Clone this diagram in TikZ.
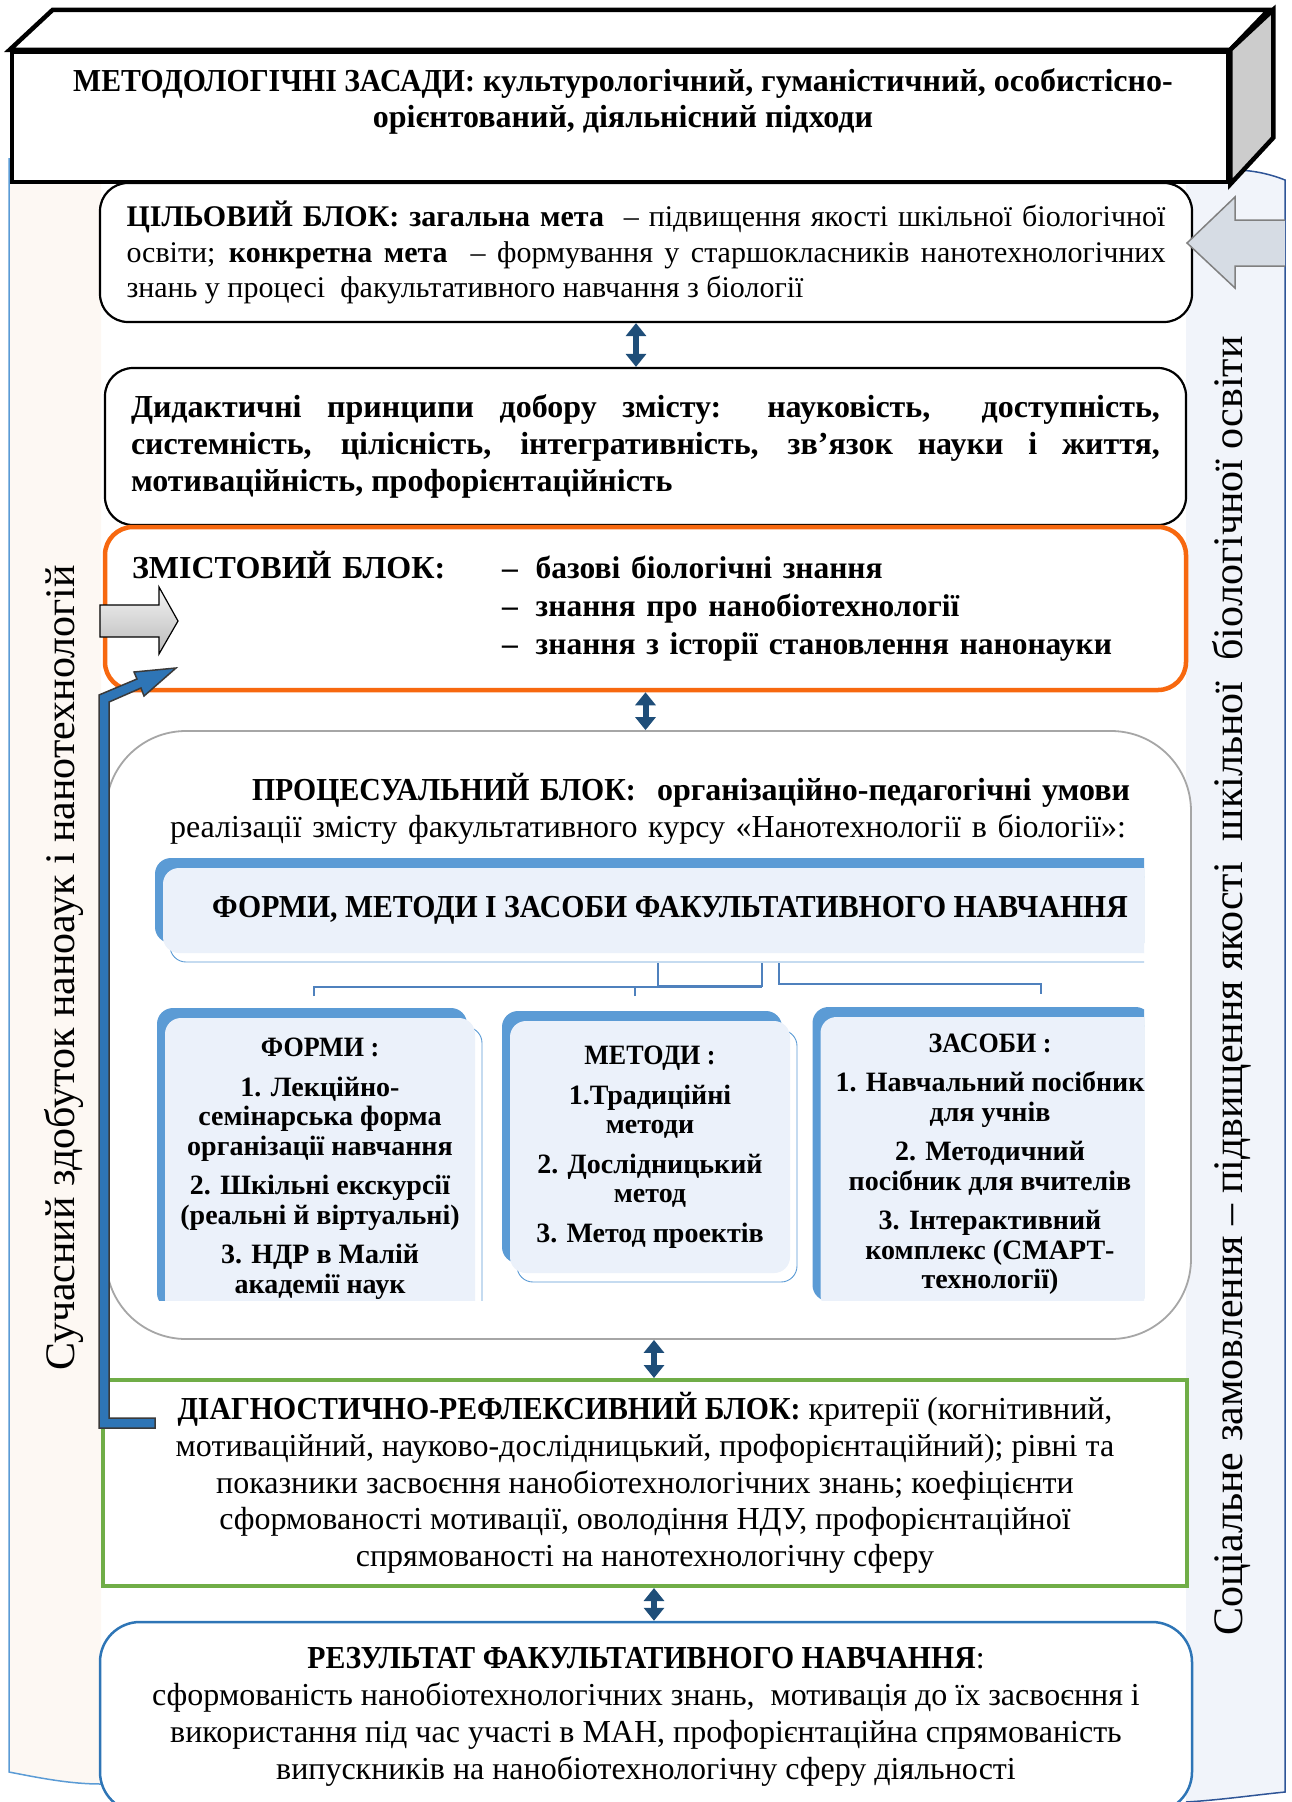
\documentclass[tikz,border=0pt]{standalone}
\usepackage{fontspec}
\setmainfont{Liberation Serif}
\newfontfamily\capsfont{Liberation Serif}[FakeStretch=0.93]
\usetikzlibrary{arrows.meta}
\usetikzlibrary{shadows}

\definecolor{arrowblue}{HTML}{1F4E79}
\definecolor{bentblue}{HTML}{2E75B6}
\definecolor{bentdark}{HTML}{3A3A3A}
\definecolor{smartblue}{HTML}{5B9BD5}
\definecolor{smartlight}{HTML}{EBF1FA}
\definecolor{treeblue}{HTML}{4F81BD}
\definecolor{blockorange}{HTML}{F7680F}
\definecolor{blockgreen}{HTML}{70AD47}
\definecolor{resultblue}{HTML}{2E75B6}
\definecolor{procgray}{HTML}{A6A6A6}
\definecolor{stripbeige}{HTML}{FDF8F3}
\definecolor{stripblue}{HTML}{F1F4FA}
\definecolor{stripdark}{HTML}{2F5597}
\definecolor{arrowgray}{HTML}{D6DCE4}

\newcommand{\blocktext}{\fontsize{32}{36.8}\selectfont}
\newcommand{\goaltext}{\fontsize{30}{35.6}\selectfont}
\newcommand{\itemtext}{\fontsize{31.5}{36.8}\selectfont}
\newcommand{\smarttext}{\fontsize{28}{29.5}\selectfont\bfseries}
\newcommand{\striptext}{\fontsize{42}{48}\selectfont}
\newcommand{\capsbf}[1]{{\capsfont\bfseries #1}}

\begin{document}
\begin{tikzpicture}[x=1pt,y=-1pt,
    block/.style={draw,line width=2.2pt,rounded corners=28pt,fill=white,
    inner ysep=0pt,font=\blocktext},
    smart/.style={fill=smartlight,rounded corners=16pt,inner sep=0pt,
    align=center,font=\smarttext,
    general shadow={draw=smartblue,line width=.9pt,fill=none,
      shadow xshift=7pt,shadow yshift=-9pt},
    general shadow={fill=smartblue,shadow xshift=-8pt,shadow yshift=10pt}},
    link/.style={draw=arrowblue,line width=6pt,
    {Triangle[width=20pt,length=13pt]}-{Triangle[width=20pt,length=13pt]}},
    tree/.style={draw=treeblue,line width=1.1pt},
    strip/.style={font=\striptext,rotate=90,inner sep=0pt}]

  \clip (0,0) rectangle (1291,1802);

  % side strips
  \fill[stripbeige] (9,158) -- (9,1772) .. controls (40,1778) and (70,1784) .. (101,1784) -- (101,158) -- cycle;
  \draw[smartblue,line width=1.5pt] (9,158) -- (9,1772) .. controls (40,1778) and (70,1784) .. (101,1784);
  \fill[stripblue] (1186,178) .. controls (1220,166) and (1255,168) .. (1285,180) -- (1285,1792) .. controls (1255,1795) and (1220,1800) .. (1186,1802) -- cycle;
  \draw[stripdark,line width=1.5pt] (1186,178) .. controls (1220,166) and (1255,168) .. (1285,180) -- (1285,1792) .. controls (1255,1795) and (1220,1800) .. (1186,1802);

  \node[strip] (modern) at (64,968) {Сучасний здобуток наноаук і нанотехнологій};
  \node[strip] (social) at (1232,986) {Соціальне замовлення – підвищення якості\ \ шкільної\ \ біологічної освіти};

  % blocks
  \node[block,font=\goaltext,text width=1039,inner xsep=26.5pt,minimum height=139,align=justify] (goal) at (646,252.5)
    {\textbf{ЦІЛЬОВИЙ БЛОК: загальна мета}\ \ – підвищення якості шкільної біологічної\linebreak
     освіти; \textbf{конкретна мета}\ \ – формування у старшокласників нанотехнологічних\linebreak
     знань у процесі\ \ факультативного навчання з біології};
  \node[block,text width=1029,inner xsep=26pt,minimum height=157,align=justify] (didactic) at (645.5,446.5)
    {\bfseries Дидактичні принципи добору змісту: науковість,\ \ доступність,\linebreak
     системність, цілісність, інтегративність, зв’язок науки і життя,\linebreak
     мотиваційність, профорієнтаційність};
  \node[block,draw=blockorange,line width=4.5pt,text width=1027,inner xsep=27pt,minimum height=163,align=left] (content) at (645.5,608.5)
    {\bfseries\begin{tabular}{@{}p{370pt}@{}l@{}}
     ЗМІСТОВИЙ БЛОК: & {\itemtext –\hspace{18pt}базові біологічні знання}\\[1pt]
     & {\itemtext –\hspace{18pt}знання про нанобіотехнології}\\[1pt]
     & {\itemtext –\hspace{18pt}знання з історії становлення нанонауки}
     \end{tabular}};
  \node[block,draw=procgray,line width=1.8pt,rounded corners=80pt,minimum width=1085,minimum height=608] (proc) at (648.5,1035) {};
  \node[font=\blocktext,text width=960,align=left,inner sep=0pt] (proctitle) at (650,808.5)
    {\hfill\capsbf{ПРОЦЕСУАЛЬНИЙ БЛОК:}\ \ \textbf{організаційно-педагогічні умови}\\
     реалізації змісту факультативного курсу «Нанотехнології в біології»:};
  \node[block,sharp corners,draw=blockgreen,line width=4pt,minimum width=1084,minimum height=206,align=center] (diag) at (645,1483)
    {\capsbf{ДІАГНОСТИЧНО-РЕФЛЕКСИВНИЙ БЛОК:} критерії (когнітивний,\\
     мотиваційний, науково-дослідницький, профорієнтаційний); рівні та\\
     показники засвоєння нанобіотехнологічних знань; коефіцієнти\\
     сформованості мотивації, оволодіння НДУ, профорієнтаційної\\
     спрямованості на нанотехнологічну сферу};
  \node[block,draw=resultblue,line width=2.5pt,rounded corners=40pt,minimum width=1092,minimum height=190,align=center] (result) at (646,1717)
    {\capsbf{РЕЗУЛЬТАТ ФАКУЛЬТАТИВНОГО НАВЧАННЯ}:\\
     сформованість нанобіотехнологічних знань,\ \ мотивація до їх засвоєння і\\
     використання під час участі в МАН, профорієнтаційна спрямованість\\
     випускників на нанобіотехнологічну сферу діяльності};

  % forms, methods, means
  \begin{scope}
    \clip (140,845) rectangle (1144,1300);
    \node[smart,font=\fontsize{32}{36}\selectfont,minimum width=1014,minimum height=85] (head) at (670,910.5)
      {\capsbf{ФОРМИ, МЕТОДИ І ЗАСОБИ ФАКУЛЬТАТИВНОГО НАВЧАННЯ}};
    \node[smart,minimum width=310,minimum height=301] (forms) at (320,1168.5)
      {\capsbf{ФОРМИ :}\\[10pt] 1. Лекційно-\\ семінарська форма\\ організації навчання\\[10pt]
       2. Шкільні екскурсії\\ (реальні й віртуальні)\\[10pt] 3. НДР в Малій\\ академії наук};
    \node[smart,minimum width=280,minimum height=252] (methods) at (650,1147)
      {\capsbf{МЕТОДИ :}\\[10pt] 1.Традиційні\\ методи\\[10pt] 2. Дослідницький\\ метод\\[10pt] 3. Метод проектів};
    \node[smart,minimum width=339,minimum height=294] (means) at (990,1164)
      {\capsbf{ЗАСОБИ :}\\[10pt] 1. Навчальний посібник\\ для учнів\\[10pt] 2. Методичний\\ посібник для вчителів\\[10pt]
       3. Інтерактивний\\ комплекс (СМАРТ-\\ технології)};

    \draw[tree] (658,963) |- (762,986) -- (762,963);
    \draw[tree] (314,996) |- (762,987);
    \draw[tree] (635,996) -- (635,986);
    \draw[tree] (779,963) |- (1041,984) -- (1041,994);
  \end{scope}

  % links between blocks
  \draw[link] ([xshift=-10pt]goal.south) -- ([xshift=-10pt]goal.south |- didactic.north);
  \draw[link] (content.south) -- (content.south |- proc.north);
  \draw[link] ([xshift=5.5pt]proc.south) -- ([xshift=5.5pt]proc.south |- diag.north);
  \draw[link] ([xshift=9pt]diag.south) -- ([xshift=9pt]diag.south |- result.north);

  % methodological basis
  \node[draw,line width=4.5pt,fill=white,minimum width=1216,minimum height=130,inner sep=0pt] (front) at (620,117) {};
  \draw[line width=4.5pt,fill=white] (front.north west) -- ++(43,-40) -- ++(1216,0) -- (front.north east) -- cycle;
  \draw[line width=4.5pt,fill=gray!40] (front.north east) -- ++(43,-40) -- ++(0,128) -- (front.south east) -- cycle;
  \node[font=\blocktext\bfseries,align=center] (basis) at (623,101.5)
    {\capsbf{МЕТОДОЛОГІЧНІ ЗАСАДИ:} культурологічний, гуманістичний, особистісно-\\ орієнтований, діяльнісний підходи};

  % arrows on the strips
  \draw[fill=arrowgray,draw=gray,line width=1.5pt] (1285,220) -- (1235,220) -- (1235,197) -- (1187,243) -- (1235,288) -- (1235,266) -- (1285,266);
  \draw[line width=1.2pt,top color=gray!8,bottom color=gray!55] (100,605) -- (159,605) -- (159,587) -- (178,621) -- (159,654) -- (159,637) -- (100,637) -- cycle;
  \draw[fill=bentblue,draw=bentdark,line width=1.5pt] (155,1428) -- (99,1428) -- (99,695) -- (137,679) -- (134,672) -- (176,668) -- (144,696) -- (141,688) -- (109,702) -- (109,1418) -- (155,1418) -- cycle;

\end{tikzpicture}
\end{document}
